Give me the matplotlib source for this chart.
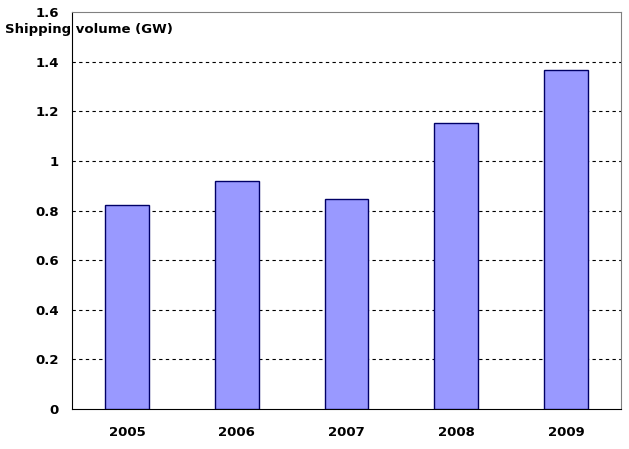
import matplotlib
matplotlib.use("Agg")
import matplotlib.pyplot as plt

years = ["2005", "2006", "2007", "2008", "2009"]
volume = [0.822, 0.919, 0.847, 1.153, 1.367]
yticks = [0, 0.2, 0.4, 0.6, 0.8, 1.0, 1.2, 1.4, 1.6]
ytick_labels = ["0", "0.2", "0.4", "0.6", "0.8", "1", "1.2", "1.4", "1.6"]

plt.rcParams['font.family'] = ['DejaVu Sans']

fig = plt.figure(figsize=(6.29, 4.49), dpi=100)
W, H = 629, 449
ax = fig.add_axes([72 / W, 1 - 409 / H, (621 - 72) / W, (409 - 12) / H])

x = list(range(len(years)))
ax.bar(x, volume, width=0.4, color="#9999FF", edgecolor="#000066", linewidth=1.0, zorder=3)
ax.set_xlim(-0.5, len(years) - 0.5)
ax.set_ylim(0, 1.6)
ax.set_yticks(yticks)
ax.set_yticklabels(ytick_labels, fontsize=9.5, fontweight="bold")
ax.set_xticks(x)
ax.set_xticklabels(years, fontsize=9.5, fontweight="bold")
ax.tick_params(axis="both", length=0)
ax.tick_params(axis="y", pad=9.5)
ax.tick_params(axis="x", pad=12.5)

for t in yticks[1:-1]:
    ax.axhline(t, color="black", linestyle=(0, (3, 3)), linewidth=0.8, zorder=1)

ax.spines["left"].set_color("black")
ax.spines["bottom"].set_color("black")
ax.spines["top"].set_color("#808080")
ax.spines["right"].set_color("#808080")

fig.text(5 / W, 1 - 30 / H, "Shipping volume (GW)", fontsize=9.5, fontweight="bold",
         ha="left", va="center")

fig.savefig("out.png", dpi=100)
